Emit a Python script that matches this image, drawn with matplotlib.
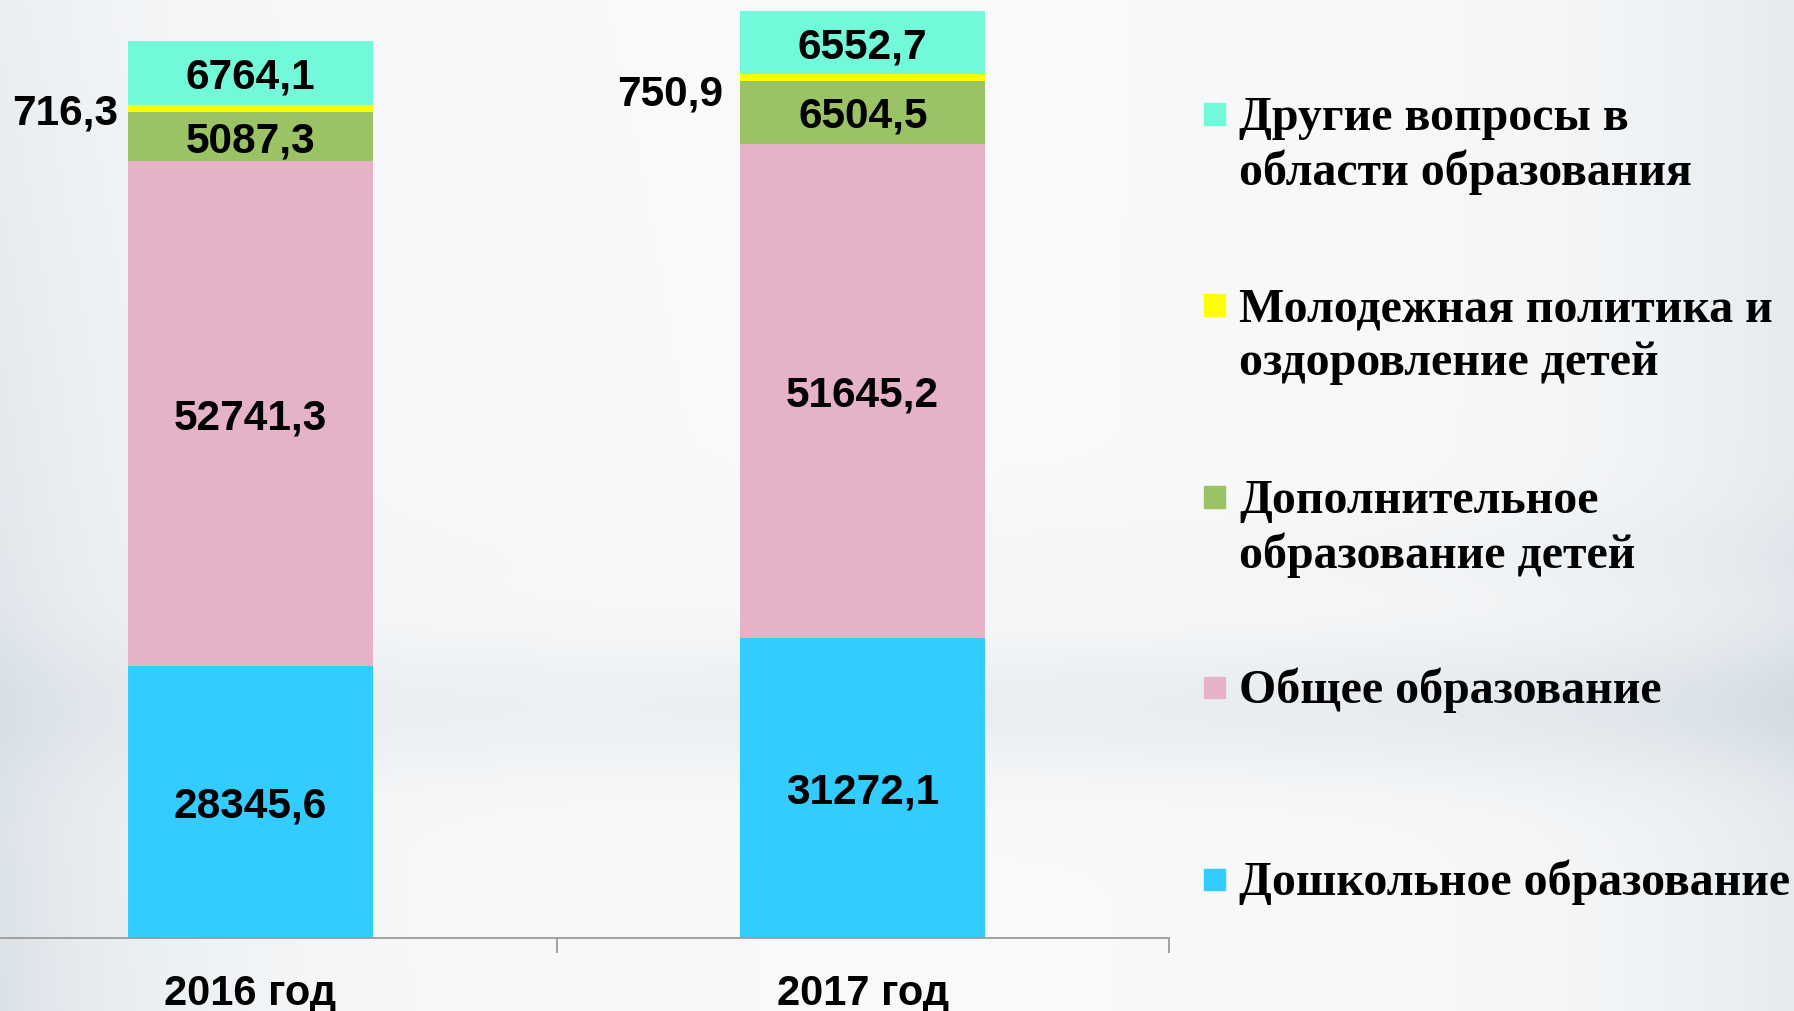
import numpy as np
import matplotlib
matplotlib.use("Agg")
import matplotlib.pyplot as plt
from matplotlib.patches import Rectangle

# data
years = ["2016 год", "2017 год"]
series_names = [
    "Дошкольное образование",
    "Общее образование",
    "Дополнительное\nобразование детей",
    "Молодежная политика и\nоздоровление детей",
    "Другие вопросы в\nобласти образования",
]
preschool = [28345.6, 31272.1]
general = [52741.3, 51645.2]
additional = [5087.3, 6504.5]
youth = [716.3, 750.9]
other = [6764.1, 6552.7]
series_values = [preschool, general, additional, youth, other]
series_colors = ["#33CCFF", "#E5B2C8", "#9BC264", "#FFFF00", "#72F9D9"]

W_PX, H_PX = 1794, 1011
fig = plt.figure(figsize=(W_PX / 100, H_PX / 100), dpi=100)

# background gradient
bg = fig.add_axes([0, 0, 1, 1], zorder=0)
gx = np.linspace(0, 1, 400)[None, :]
gy = np.linspace(0, 1, 240)[:, None]
d = (0.55 * np.exp(-gx / 0.10) * (0.45 + 0.55 * gy)
     + 0.35 * np.exp(-(1 - gx) / 0.10)
     + 0.32 * np.exp(-((gy - 0.70) / 0.07) ** 2) * (0.45 + 0.55 * gx)
     + 0.10 * np.exp(-((gy - 0.55) / 0.05) ** 2) * gx)
d = np.clip(d, 0, 1)[..., None]
light = np.array([0.975, 0.978, 0.982])
dark = np.array([0.76, 0.81, 0.85])
img = light * (1 - d) + dark * d
bg.imshow(img, aspect="auto", extent=[0, 1, 0, 1], interpolation="bicubic")
bg.set_axis_off()

# main axes (left edge runs a bit off the figure, as in the slide)
ax_left, ax_right, ax_bottom = -56, 1169, 938
ax = fig.add_axes([ax_left / W_PX, (H_PX - ax_bottom) / H_PX,
                   (ax_right - ax_left) / W_PX, ax_bottom / H_PX], zorder=1)
ax.patch.set_alpha(0)

x = np.arange(len(years))
bottoms = np.zeros(len(years))
bar_w = 0.4
for vals, color in zip(series_values, series_colors):
    vals = np.array(vals)
    ax.bar(x, vals, bar_w, bottom=bottoms, color=color, edgecolor="none", zorder=2)
    bottoms = bottoms + vals

ax.set_xlim(-0.5, 1.5)
ax.set_ylim(0, 97900)

lbl_font = dict(family=["Liberation Sans", "DejaVu Sans"], fontweight="bold",
                fontsize=30.5, color="black")

# value labels
bottoms = np.zeros(len(years))
for k, vals in enumerate(series_values):
    for i, v in enumerate(vals):
        txt = f"{v:.1f}".replace(".", ",")
        if series_names[k].startswith("Молодежная"):
            ax.annotate(txt, (x[i] - bar_w / 2, bottoms[i] + v / 2),
                        xytext=(-7 - 5 * i, -9 * i), textcoords="offset points",
                        ha="right", va="center_baseline", zorder=3, **lbl_font)
        else:
            ax.text(x[i], bottoms[i] + v / 2, txt, ha="center",
                    va="center_baseline", zorder=3, **lbl_font)
    bottoms = bottoms + np.array(vals)

for s in ["top", "left", "right"]:
    ax.spines[s].set_visible(False)
ax.spines["bottom"].set_color("#9a9a9a")
ax.spines["bottom"].set_linewidth(1.3)
ax.set_yticks([])
ax.set_xticks(x)
ax.set_xticklabels(years)
ax.tick_params(axis="x", which="major", length=0, pad=26)
for t in ax.get_xticklabels():
    t.set_fontfamily(["Liberation Sans", "DejaVu Sans"])
    t.set_fontweight("bold")
    t.set_fontsize(30)
ax.set_xticks([-0.5, 0.5, 1.5], minor=True)
ax.tick_params(axis="x", which="minor", length=11, width=1.3, color="#9a9a9a",
               direction="out")

# legend drawn by hand, top entry first
leg_y = [114, 305, 497, 687, 879]
line_h = 54
sq = 21
for name, color, yc in zip(series_names[::-1], series_colors[::-1], leg_y):
    fig.patches.append(Rectangle(((1204) / W_PX, (H_PX - yc - sq / 2) / H_PX),
                                 sq / W_PX, sq / H_PX, color=color,
                                 transform=fig.transFigure, zorder=3))
    n = name.count("\n") + 1
    yt = yc + 3 + (n - 1) * (line_h + 3) / 2
    fig.text(1239 / W_PX, (H_PX - yt) / H_PX, name, ha="left", va="center",
             family=["Liberation Serif", "DejaVu Serif"], fontweight="bold",
             fontsize=34.5, linespacing=1.28, zorder=3)

fig.savefig("out.png", dpi=100)
